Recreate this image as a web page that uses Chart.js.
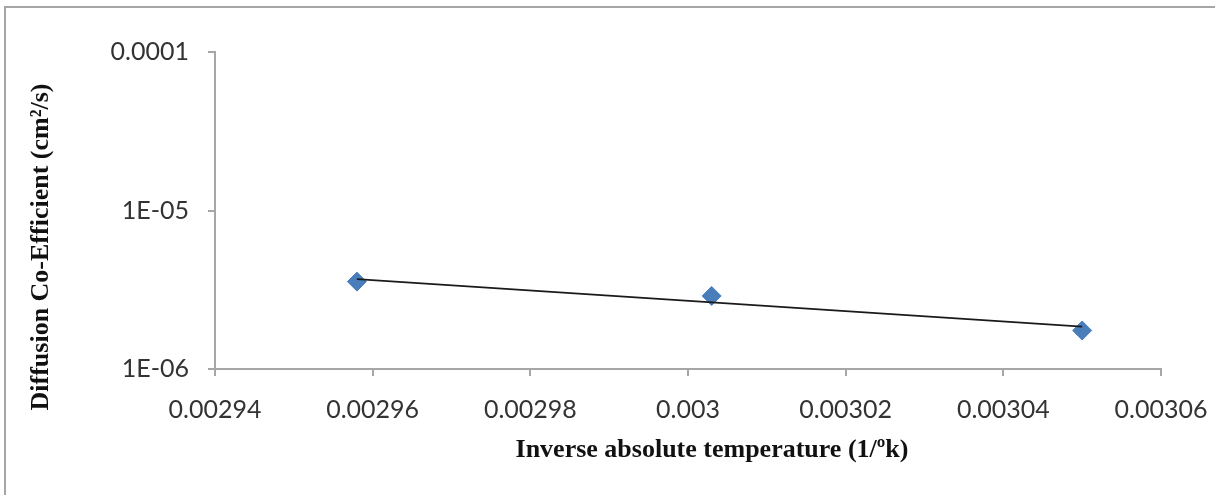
<!DOCTYPE html>
<html>
<head>
<meta charset="utf-8">
<script src="https://cdn.jsdelivr.net/npm/chart.js@4.4.0/dist/chart.umd.min.js"></script>
<style>
  body { margin: 0; background: #fff; overflow: hidden; }
  #wrap { position: relative; width: 1215px; height: 495px; }
  #frame { position: absolute; left: 4px; top: 6px; width: 1400px; height: 700px; border: 2px solid #a6a6a6; }
  #chart { position: absolute; left: 0; top: 0; }
</style>
</head>
<body>
<div id="wrap">
  <div id="frame"></div>
  <canvas id="chart" width="1215" height="495"></canvas>
</div>
<script>
// measured points
let inverseTemp = [0.002958, 0.003003, 0.00305];
let diffusion = [3.56e-6, 2.89e-6, 1.75e-6];

// trend line ends
let trendX = [0.002958, 0.00305];
let trendY = [3.69e-6, 1.85e-6];

// axis ticks
let xTickValues = [0.00294, 0.00296, 0.00298, 0.003, 0.00302, 0.00304, 0.00306];
let xTickLabels = ["0.00294", "0.00296", "0.00298", "0.003", "0.00302", "0.00304", "0.00306"];
let yTickValues = [1e-6, 1e-5, 1e-4];
let yTickLabels = ["1E-06", "1E-05", "0.0001"];

let xTitle = "Inverse absolute temperature (1/ºk)";
let yTitle = "Diffusion Co-Efficient (cm²/s)";

let points = [];
for (let i = 0; i < inverseTemp.length; i++) {
    points.push({ x: inverseTemp[i], y: diffusion[i] });
}
let trend = [];
for (let i = 0; i < trendX.length; i++) {
    trend.push({ x: trendX[i], y: trendY[i] });
}

let axisColor = "#a6a6a6";
let tickFont = { family: "Lato", size: 25 };

// axis titles sit off-centre in the original, so draw them by hand
let axisTitles = {
    id: "axisTitles",
    afterDraw: function (chart) {
        let ctx = chart.ctx;
        ctx.save();
        ctx.font = 'bold 26px "Liberation Serif"';
        ctx.fillStyle = "#111";
        ctx.textAlign = "center";
        ctx.textBaseline = "middle";
        ctx.fillText(xTitle, 712, 450);
        ctx.translate(41, 247);
        ctx.rotate(-Math.PI / 2);
        ctx.fillText(yTitle, 0, 0);
        ctx.restore();
    }
};

new Chart("chart", {
    type: "scatter",
    data: {
        datasets: [
            {
                label: "trend",
                data: trend,
                showLine: true,
                borderColor: "#1a1a1a",
                borderWidth: 1.8,
                pointRadius: 0
            },
            {
                label: "Diffusion",
                data: points,
                pointStyle: "rectRot",
                pointRadius: 9.5,
                pointBackgroundColor: "#4a7ebb",
                pointBorderColor: "#4a7ebb",
                pointBorderWidth: 1
            }
        ]
    },
    options: {
        responsive: false,
        animation: false,
        layout: { padding: { left: 22, top: 52, right: 54, bottom: 20 } },
        plugins: { legend: { display: false }, tooltip: { enabled: false } },
        scales: {
            x: {
                type: "linear",
                min: 0.00294,
                max: 0.00306,
                afterBuildTicks: function (scale) {
                    scale.ticks = xTickValues.map(v => ({ value: v }));
                },
                afterFit: function (scale) {
                    scale.height = 106;
                    scale.paddingLeft = 0;
                    scale.paddingRight = 0;
                },
                ticks: {
                    padding: 19,
                    color: "#333",
                    font: tickFont,
                    maxRotation: 0,
                    autoSkip: false,
                    callback: function (v, i) { return xTickLabels[i]; }
                },
                grid: { drawOnChartArea: false, drawTicks: true, tickLength: 7, color: axisColor, lineWidth: 2 },
                border: { display: true, color: axisColor, width: 2 }
            },
            y: {
                type: "logarithmic",
                min: 1e-6,
                max: 1e-4,
                afterBuildTicks: function (scale) {
                    scale.ticks = yTickValues.map(v => ({ value: v }));
                },
                afterFit: function (scale) {
                    scale.width = 193;
                    scale.paddingTop = 0;
                    scale.paddingBottom = 0;
                },
                ticks: {
                    padding: 19,
                    color: "#333",
                    font: tickFont,
                    autoSkip: false,
                    callback: function (v, i) { return yTickLabels[i]; }
                },
                grid: { drawOnChartArea: false, drawTicks: true, tickLength: 7, color: axisColor, lineWidth: 2 },
                border: { display: true, color: axisColor, width: 2 }
            }
        }
    },
    plugins: [axisTitles]
});
</script>
</body>
</html>
